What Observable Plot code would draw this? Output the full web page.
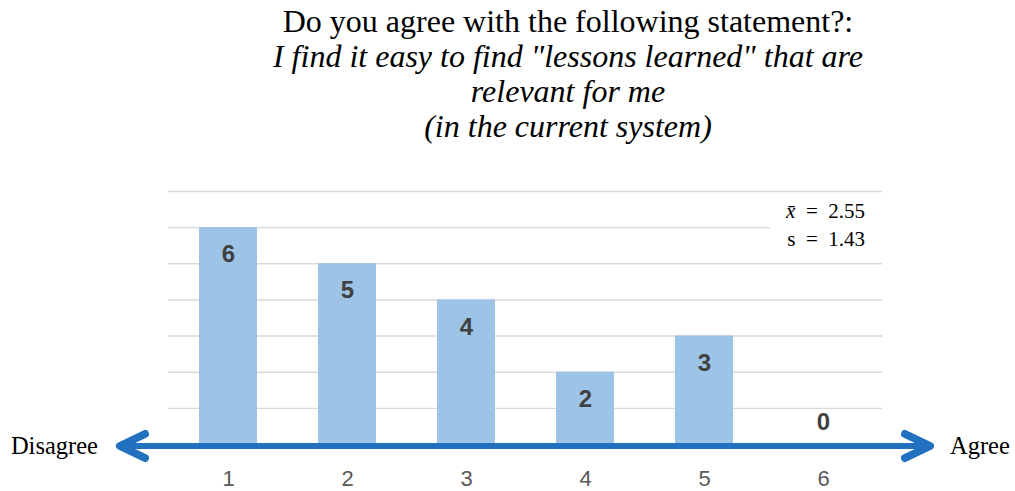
<!DOCTYPE html>
<html>
<head>
<meta charset="utf-8">
<script src="https://cdn.jsdelivr.net/npm/d3@7"></script>
<script src="https://cdn.jsdelivr.net/npm/@observablehq/plot@0.6"></script>
<style>
  body { margin: 0; background: #fff; width: 1015px; height: 491px; overflow: hidden; position: relative; }
  #title {
    position: absolute; left: 121px; width: 894px; top: 4px;
    text-align: center; font-family: "Liberation Serif", "Times New Roman", serif;
    font-size: 32px; line-height: 35px; color: #000;
  }
  #chart { position: absolute; left: 0; top: 160px; }
  #chart svg g[aria-label="x-axis tick label"] { font-size: 22px; }
</style>
</head>
<body>
<div id="title">Do you agree with the following statement?:<br><i>I find it easy to find "lessons learned" that are<br>relevant for me<br>(in the current system)</i></div>
<div id="chart"></div>
<script>
// Likert responses: rating on the 1–6 scale and the number of respondents
const ratings = [1, 2, 3, 4, 5, 6];
const counts = [6, 5, 4, 2, 3, 0];
const gridValues = [1, 2, 3, 4, 5, 6, 7];
const meanText = "2.55";
const sdText = "1.43";
const endLabels = ["Disagree", "Agree"];

const data = ratings.map((r, i) => ({ rating: r, count: counts[i] }));

const plot = Plot.plot({
  width: 1015,
  height: 331,
  marginLeft: 168,
  marginRight: 133,
  marginTop: 31,
  marginBottom: 47,
  style: { fontFamily: "'Liberation Sans', Arial, sans-serif", background: "white" },
  x: { domain: ratings, paddingInner: 0.513, paddingOuter: 0.2565, label: null },
  y: { domain: [0, 7], axis: null },
  marks: [
    Plot.gridY(gridValues, { stroke: "#d9d9d9", strokeOpacity: 1, strokeWidth: 1.4 }),
    Plot.barY(data, { x: "rating", y: "count", fill: "#9dc3e6" }),
    Plot.text(data.filter(d => d.count > 0), {
      x: "rating", y: "count", text: d => String(d.count),
      dy: 27, fontSize: 24, fontWeight: "bold", fill: "#404040"
    }),
    Plot.text(data.filter(d => d.count === 0), {
      x: "rating", y: "count", text: d => String(d.count),
      dy: -22, fontSize: 24, fontWeight: "bold", fill: "#404040"
    }),
    Plot.axisX({ tickSize: 0, tickPadding: 26, fontSize: 22, color: "#595959", label: null })
  ]
});

document.getElementById("chart").appendChild(plot);

// Double-headed agreement arrow, end labels and summary statistics
const xs = plot.scale("x");
const ys = plot.scale("y");
const left = xs.range[0], right = xs.range[1];
const y0 = ys.apply(0) + 2;
const svg = d3.select(plot);
const blue = "#2171c0";
const g = svg.append("g");

g.append("line")
  .attr("x1", left - 48).attr("x2", right + 48)
  .attr("y1", y0).attr("y2", y0)
  .attr("stroke", blue).attr("stroke-width", 6);

const head = (tip, dir) => g.append("path")
  .attr("d", `M${tip - dir * 25},${y0 - 12} L${tip},${y0} L${tip - dir * 25},${y0 + 12}`)
  .attr("fill", "none").attr("stroke", blue).attr("stroke-width", 8)
  .attr("stroke-linecap", "round").attr("stroke-linejoin", "round");
head(left - 48, -1);
head(right + 48, 1);

g.append("text")
  .attr("x", left - 70).attr("y", y0 + 8)
  .attr("text-anchor", "end")
  .attr("font-family", "'Liberation Serif', 'Times New Roman', serif")
  .attr("font-size", 24.5).attr("fill", "#000")
  .text(endLabels[0]);
g.append("text")
  .attr("x", right + 68).attr("y", y0 + 8)
  .attr("text-anchor", "start")
  .attr("font-family", "'Liberation Serif', 'Times New Roman', serif")
  .attr("font-size", 24.5).attr("fill", "#000")
  .text(endLabels[1]);

// stats box sits over the gridlines in the top-right corner
const top7 = ys.apply(7);
g.append("rect")
  .attr("x", right - 112).attr("y", top7 + 7)
  .attr("width", 112).attr("height", 58)
  .attr("fill", "white");
const stats = g.append("text")
  .attr("text-anchor", "end")
  .attr("font-family", "'Liberation Serif', 'Times New Roman', serif")
  .attr("font-size", 21).attr("fill", "#000")
  .attr("xml:space", "preserve");
const l1 = stats.append("tspan").attr("x", right - 17).attr("y", top7 + 27);
l1.append("tspan").attr("font-style", "italic").text("x\u0304");
l1.append("tspan").text("\u2002=\u2002" + meanText);
stats.append("tspan").attr("x", right - 17).attr("y", top7 + 55).text("s\u2002=\u2002" + sdText);
</script>
</body>
</html>
